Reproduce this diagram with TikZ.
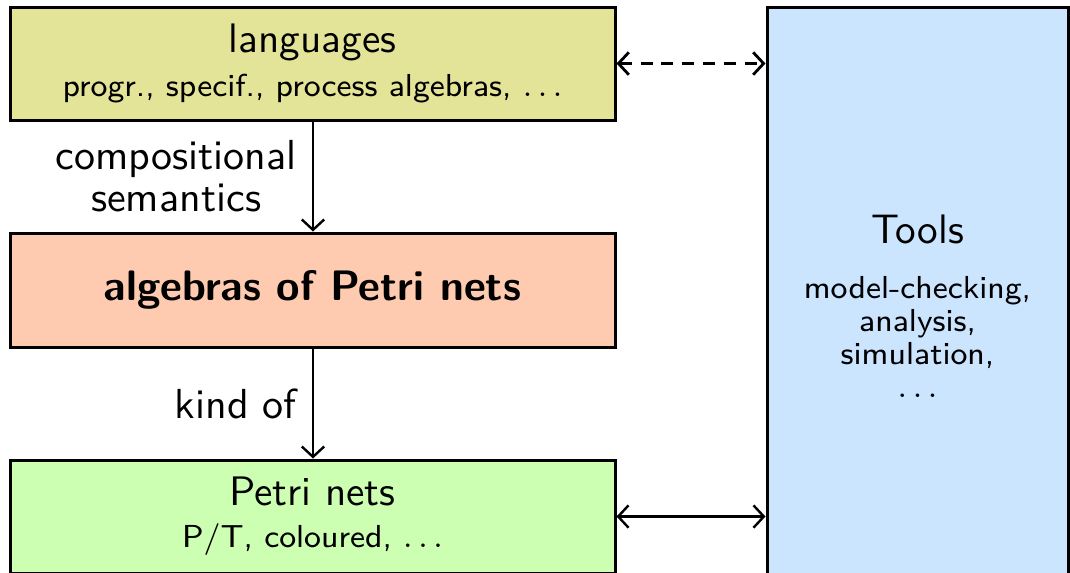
\documentclass[tikz,border=0pt]{standalone}
\usepackage{fontspec}
\usetikzlibrary{arrows.meta}
\definecolor{langc}{RGB}{228,228,152}
\definecolor{algc}{RGB}{255,203,176}
\definecolor{petric}{RGB}{204,255,178}
\definecolor{toolc}{RGB}{204,229,255}
\newcommand{\bigsz}{\fontsize{10.3}{11}\selectfont}
\newcommand{\smsz}{\fontsize{7.95}{8.25}\selectfont}
\tikzset{
  box/.style={draw=black, line width=0.75pt, inner sep=0pt, align=center, font=\sffamily},
  conn/.style={line width=0.6pt, {Straight Barb[length=2.6pt,width=5.6pt]}-{Straight Barb[length=2.6pt,width=5.6pt]}},
  down/.style={line width=0.6pt, -{Straight Barb[length=2.6pt,width=5.6pt]}},
  lbl/.style={font=\sffamily\fontsize{10.5}{10.5}\selectfont, align=center, inner sep=3.75pt}
}
\begin{document}
\begin{tikzpicture}[x=0.25pt,y=-0.25pt]
\useasboundingbox (0,0) rectangle (1070,572);
\clip (0,0) rectangle (1070,572);
\node[box, fill=langc, minimum width=605*0.25pt, minimum height=113*0.25pt] (lang) at (312.5,63.5)
  {\bigsz languages\\[-1.2pt] \smsz progr., specif., process algebras, $\ldots$};
\node[box, fill=algc, minimum width=605*0.25pt, minimum height=114*0.25pt] (alg) at (312.5,290)
  {\fontsize{10.65}{11}\selectfont\bfseries algebras of Petri nets};
\node[box, fill=petric, minimum width=605*0.25pt, minimum height=113*0.25pt] (petri) at (312.5,516.5)
  {\bigsz Petri nets\\[-1.5pt] \smsz P/T, coloured, $\ldots$};
\node[box, fill=toolc, font=\sffamily\smsz, minimum width=301*0.25pt, minimum height=598*0.25pt] (tools) at (917.5,306)
  {\bigsz Tools\\[5.5pt] model-checking,\\ analysis,\\ simulation,\\ $\ldots$};
\draw[down] (lang.south -| 313,0) -- node[lbl, left] {compositional\\semantics} (alg.north -| 313,0);
\draw[down] (alg.south -| 313,0) -- node[lbl, left] {kind of} (petri.north -| 313,0);
\draw[conn, line width=0.7pt, dash pattern=on 3pt off 2.2pt] (lang.east) -- (lang.east -| tools.west);
\draw[conn] (petri.east) -- (petri.east -| tools.west);
\end{tikzpicture}
\end{document}
